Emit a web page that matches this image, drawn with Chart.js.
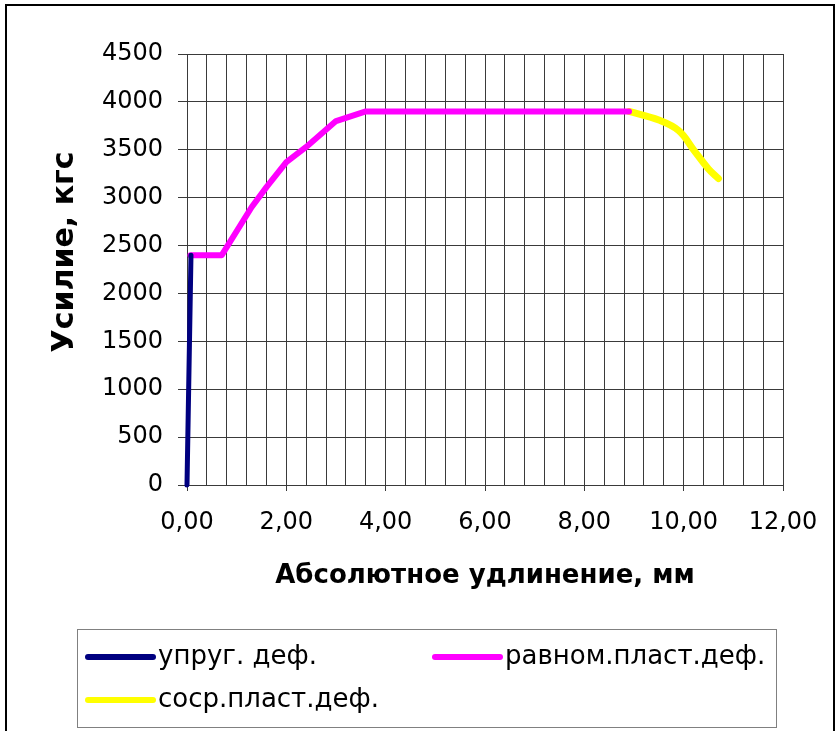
<!DOCTYPE html>
<html>
<head>
<meta charset="utf-8">
<script src="https://cdn.jsdelivr.net/npm/chart.js@4.4.0/dist/chart.umd.min.js"></script>
<style>
  html, body { margin: 0; padding: 0; background: #fff; }
  canvas { display: block; }
</style>
</head>
<body>
<canvas id="chart" width="840" height="731"></canvas>
<script>
// series (x: мм, y: кгс)
const seriesNames = ['упруг. деф.', 'равном.пласт.деф.', 'соср.пласт.деф.'];
const seriesColors = ['#000080', '#FF00FF', '#FFFF00'];

const elasticX = [0, 0.08];
const elasticY = [0, 2400];

const uniformX = [0.07, 0.7, 1.3, 1.6, 2.0, 2.4, 3.0, 3.6, 8.9];
const uniformY = [2400, 2400, 2900, 3110, 3370, 3530, 3800, 3900, 3900];

const neckX = [8.9, 9.5, 9.9, 10.2, 10.5, 10.7];
const neckY = [3900, 3810, 3700, 3500, 3300, 3200];

const xTitle = 'Абсолютное удлинение, мм';
const yTitle = 'Усилие, кгс';

const X_MIN = 0, X_MAX = 12, X_GRID_STEP = 0.4, X_LABEL_STEP = 2;
const Y_MIN = 0, Y_MAX = 4500, Y_STEP = 500;

const GRID = '#3a3a3a';
const FONT = 'DejaVu Sans';

const toPoints = (xs, ys) => xs.map((x, i) => ({ x, y: ys[i] }));
const isLabelTick = (v) => Math.abs(v / X_LABEL_STEP - Math.round(v / X_LABEL_STEP)) < 1e-6;
const commaFixed = (v) => v.toFixed(2).replace('.', ',');

// outer frame, y title (sits a bit above plot centre in the original) and legend box
const frameAndLegend = {
    id: 'frameAndLegend',
    afterDraw(chart) {
        const ctx = chart.ctx;
        ctx.save();
        ctx.strokeStyle = '#000';
        ctx.lineWidth = 2;
        ctx.strokeRect(6, 5, 828, 760);

        ctx.save();
        ctx.translate(65, 252);
        ctx.rotate(-Math.PI / 2);
        ctx.font = 'bold 30px "' + FONT + '"';
        ctx.fillStyle = '#000';
        ctx.textAlign = 'center';
        ctx.textBaseline = 'middle';
        ctx.fillText(yTitle, 0, 0);
        ctx.restore();

        ctx.strokeStyle = '#808080';
        ctx.lineWidth = 1;
        ctx.strokeRect(77.5, 629.5, 699, 98);

        const slots = [[85, 657], [432, 657], [85, 700]];
        ctx.font = '26px "' + FONT + '"';
        ctx.textBaseline = 'middle';
        ctx.textAlign = 'left';
        chart.data.datasets.forEach((ds, i) => {
            const [x, y] = slots[i];
            ctx.strokeStyle = ds.borderColor;
            ctx.lineWidth = 6;
            ctx.lineCap = 'round';
            ctx.beginPath();
            ctx.moveTo(x + 3, y);
            ctx.lineTo(x + 68, y);
            ctx.stroke();
            ctx.fillStyle = '#000';
            ctx.fillText(ds.label, x + 73, y);
        });
        ctx.restore();
    },
};

const lineDataset = (i, xs, ys, width, tension) => ({
    label: seriesNames[i],
    data: toPoints(xs, ys),
    borderColor: seriesColors[i],
    backgroundColor: seriesColors[i],
    borderWidth: width,
    borderCapStyle: 'round',
    borderJoinStyle: 'round',
    pointRadius: 0,
    showLine: true,
    tension,
    clip: false,
});

new Chart(document.getElementById('chart'), {
    type: 'scatter',
    data: {
        datasets: [
            lineDataset(0, elasticX, elasticY, 5, 0),
            lineDataset(1, uniformX, uniformY, 6, 0),
            lineDataset(2, neckX, neckY, 7, 0.4),
        ],
    },
    options: {
        responsive: false,
        animation: false,
        devicePixelRatio: 1,
        layout: { padding: { top: 54, right: 57, bottom: 0, left: 0 } },
        plugins: {
            legend: { display: false },
            tooltip: { enabled: false },
        },
        scales: {
            x: {
                type: 'linear',
                min: X_MIN,
                max: X_MAX,
                afterFit: (s) => { s.height = 246; },
                ticks: {
                    stepSize: X_GRID_STEP,
                    autoSkip: false,
                    maxRotation: 0,
                    padding: 17,
                    color: '#000',
                    font: { family: FONT, size: 24 },
                    callback: (v) => (isLabelTick(v) ? commaFixed(v) : ''),
                },
                grid: {
                    color: GRID,
                    lineWidth: 1,
                    tickLength: 6,
                    tickColor: (c) => (c.tick && isLabelTick(c.tick.value) ? GRID : 'rgba(0,0,0,0)'),
                },
                border: { color: GRID },
                title: {
                    display: true,
                    text: xTitle,
                    color: '#000',
                    font: { family: FONT, size: 26, weight: 'bold' },
                    padding: { top: 0, bottom: 139 },
                },
            },
            y: {
                type: 'linear',
                min: Y_MIN,
                max: Y_MAX,
                afterFit: (s) => { s.width = 187; },
                ticks: {
                    stepSize: Y_STEP,
                    padding: 15,
                    color: '#000',
                    font: { family: FONT, size: 24 },
                    callback: (v) => String(v),
                },
                grid: {
                    color: GRID,
                    lineWidth: 1,
                    tickLength: 9,
                },
                border: { color: GRID },
            },
        },
    },
    plugins: [frameAndLegend],
});
</script>
</body>
</html>
